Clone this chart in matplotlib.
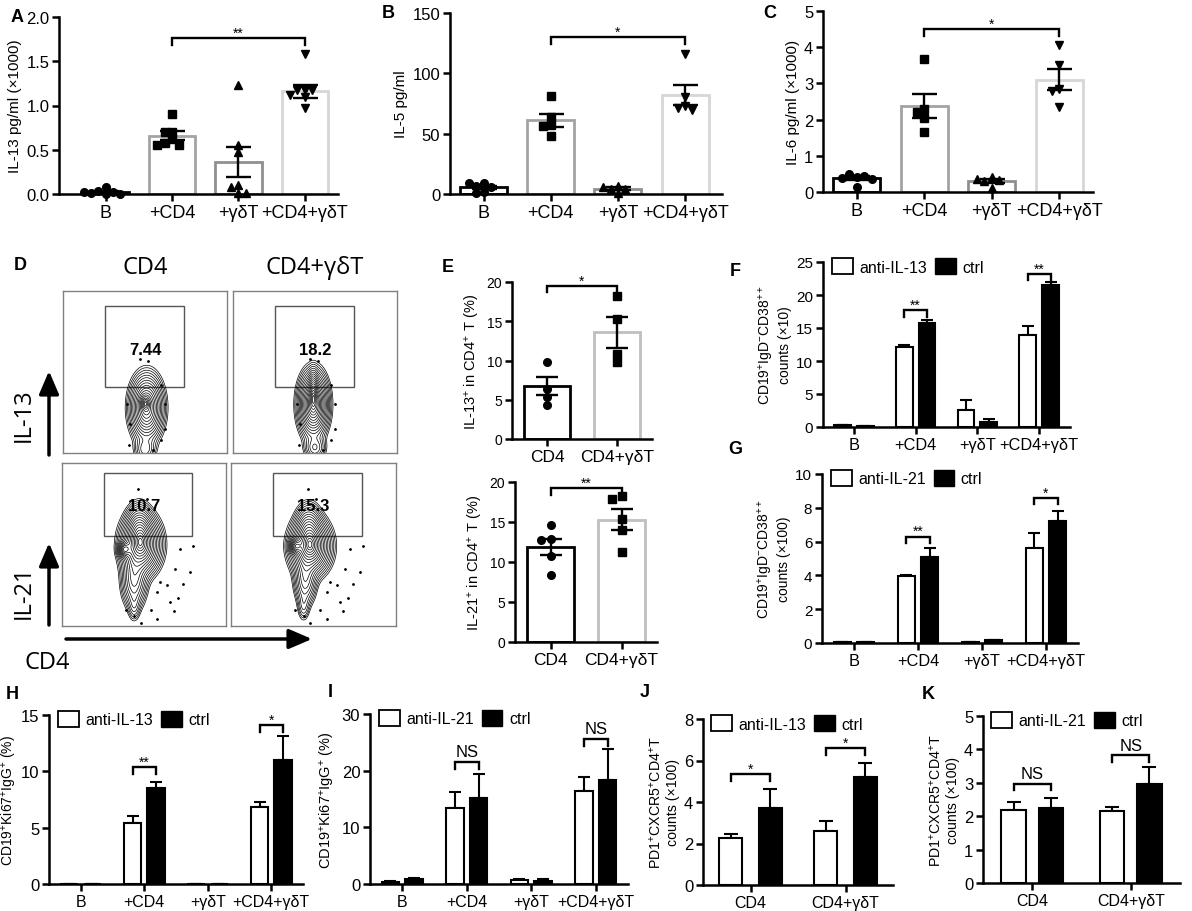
import numpy as np
import matplotlib
matplotlib.use('Agg')
import matplotlib.pyplot as plt
from matplotlib.patches import Patch, Rectangle, FancyArrowPatch

plt.rcParams['font.family'] = ['Liberation Sans', 'DejaVu Sans']
plt.rcParams['mathtext.fontset'] = 'custom'
plt.rcParams['mathtext.rm'] = 'Liberation Sans'
plt.rcParams['mathtext.it'] = 'Liberation Sans:italic'
plt.rcParams['mathtext.bf'] = 'Liberation Sans:bold'

W, H = 1192, 912

# ---- data ----
groups4 = ['B', '+CD4', '+γδT', '+CD4+γδT']
groups2 = ['CD4', 'CD4+γδT']

# A: IL-13 pg/ml (x1000)
a_points = [[0.08, 0.03, 0.02, 0.01, 0.0, 0.0, 0.02],
            [0.90, 0.70, 0.70, 0.62, 0.58, 0.55, 0.55],
            [1.23, 0.55, 0.47, 0.10, 0.08, 0.01, 0.01],
            [1.58, 1.18, 1.17, 1.17, 1.12, 1.10, 0.97]]
a_mean = [0.02, 0.66, 0.36, 1.16]
a_sem = [0.01, 0.05, 0.17, 0.07]

# B: IL-5 pg/ml
b_points = [[9, 7, 6, 9, 2, 1],
            [81, 64, 57, 56, 48],
            [6.5, 4.5, 4.0, 6.0, 1.0],
            [116, 80, 73, 71, 70]]
b_mean = [5.5, 61, 4.5, 82]
b_sem = [1.5, 5.5, 1.0, 8.5]

# C: IL-6 pg/ml (x1000)
c_points = [[0.42, 0.50, 0.45, 0.38, 0.35, 0.15],
            [3.68, 2.30, 2.20, 2.05, 1.65],
            [0.42, 0.30, 0.32, 0.35, 0.10],
            [4.05, 3.50, 2.85, 2.80, 2.35]]
c_mean = [0.38, 2.38, 0.30, 3.10]
c_sem = [0.05, 0.34, 0.06, 0.29]

# D: flow gates
d_gate_pct = ['7.44', '18.2', '10.7', '15.3']

# E: % of CD4+ T
e13_points = [[9.8, 6.4, 5.4, 4.3], [18.2, 15.3, 10.8, 9.8]]
e13_mean = [6.8, 13.6]
e13_sem = [1.15, 1.95]
e21_points = [[14.6, 12.9, 12.8, 10.8, 8.4], [18.3, 17.9, 15.4, 14.0, 11.2]]
e21_mean = [11.9, 15.3]
e21_sem = [1.0, 1.3]

# F-K: anti-IL-x vs ctrl
f_anti = [0.25, 12.1, 2.6, 13.9]
f_anti_err = [0.1, 0.35, 1.5, 1.4]
f_ctrl = [0.1, 15.7, 0.8, 21.5]
f_ctrl_err = [0.05, 0.5, 0.4, 0.4]

g_anti = [0.03, 3.95, 0.05, 5.6]
g_anti_err = [0.01, 0.05, 0.01, 0.9]
g_ctrl = [0.05, 5.1, 0.15, 7.2]
g_ctrl_err = [0.02, 0.5, 0.05, 0.6]

h_anti = [0, 5.4, 0, 6.85]
h_anti_err = [0, 0.65, 0, 0.4]
h_ctrl = [0, 8.5, 0, 11.0]
h_ctrl_err = [0, 0.55, 0, 2.1]

i_anti = [0.4, 13.5, 0.7, 16.4]
i_anti_err = [0.2, 2.8, 0.2, 2.5]
i_ctrl = [0.8, 15.2, 0.6, 18.3]
i_ctrl_err = [0.3, 4.2, 0.3, 5.5]

j_anti = [2.25, 2.6]
j_anti_err = [0.2, 0.5]
j_ctrl = [3.7, 5.2]
j_ctrl_err = [0.95, 0.7]

k_anti = [2.2, 2.15]
k_anti_err = [0.22, 0.12]
k_ctrl = [2.25, 2.95]
k_ctrl_err = [0.28, 0.53]

fig = plt.figure(figsize=(W / 100, H / 100), dpi=100)


def add_ax(x0, y0, x1, y1):
    return fig.add_axes([x0 / W, 1 - y1 / H, (x1 - x0) / W, (y1 - y0) / H])


def ftext(x, y, s, **kw):
    fig.text(x / W, 1 - y / H, s, **kw)


def style(ax, xfs, yfs):
    for s in ['top', 'right']:
        ax.spines[s].set_visible(False)
    for s in ['left', 'bottom']:
        ax.spines[s].set_linewidth(1.8)
    ax.tick_params(direction='out', length=5, width=1.8, pad=2)
    ax.tick_params(axis='x', labelsize=xfs)
    ax.tick_params(axis='y', labelsize=yfs)


def swarm(vals, ymax, spread):
    placed, offs = [], []
    for v in vals:
        for k in [0, -1, 1, -2, 2, -3, 3]:
            dx = k * spread
            if all(abs(dx - px) > spread * 0.9 or abs(v - py) > ymax * 0.035
                   for px, py in placed):
                break
        placed.append((dx, v))
        offs.append(dx)
    return np.array(offs)


def bracket(ax, x0, x1, y, text, ymax, fs=10):
    d = 0.04 * ymax
    ax.plot([x0, x0, x1, x1], [y - d, y, y, y - d], color='black', lw=1.7,
            clip_on=False, solid_joinstyle='miter')
    off = 0.035 if text == 'NS' else 0.008
    ax.text((x0 + x1) / 2, y + off * ymax, text, ha='center', va='baseline',
            fontsize=fs if text != 'NS' else fs + 2)


def scatter_bar(ax, cats, points, means, sems, markers, edges, ylim, yticks,
                xlim, spread, xfs, yfs, ms, width=0.7, capsize=9):
    x = np.arange(len(cats))
    ax.bar(x, means, width=width, color='white', edgecolor=edges, linewidth=2,
           zorder=1)
    for i, vals in enumerate(points):
        offs = swarm(vals, ylim[1], spread)
        ax.plot(x[i] + offs, vals, ls='none', marker=markers[i], color='black',
                ms=ms, zorder=3, clip_on=False)
    ax.errorbar(x, means, yerr=sems, fmt='none', ecolor='black', elinewidth=1.7,
                capsize=capsize, capthick=1.7, zorder=4)
    ax.set_xlim(*xlim)
    ax.set_ylim(*ylim)
    ax.set_yticks(yticks)
    ax.set_xticks(x)
    ax.set_xticklabels(cats)
    style(ax, xfs, yfs)


def pair_bar(ax, cats, anti, anti_err, ctrl, ctrl_err, ylim, yticks, sigs,
             leg, xfs, yfs, width=0.27, off=0.185, cap=4):
    x = np.arange(len(cats))
    ax.bar(x - off, anti, width=width, color='white', edgecolor='black',
           linewidth=1.5, zorder=2)
    ax.bar(x + off, ctrl, width=width, color='black', edgecolor='black',
           linewidth=1.5, zorder=2)
    ax.errorbar(x - off, anti, yerr=[np.zeros(len(x)), anti_err], fmt='none',
                ecolor='black', elinewidth=1.5, capsize=cap, capthick=1.5, zorder=1)
    ax.errorbar(x + off, ctrl, yerr=[np.zeros(len(x)), ctrl_err], fmt='none',
                ecolor='black', elinewidth=1.5, capsize=cap, capthick=1.5, zorder=1)
    for i, txt, y in sigs:
        bracket(ax, i - off, i + off, y, txt, ylim[1])
    ax.set_xlim(-0.5, len(cats) - 0.5)
    ax.set_ylim(*ylim)
    ax.set_yticks(yticks)
    ax.set_xticks(x)
    ax.set_xticklabels(cats)
    style(ax, xfs, yfs)
    handles = [Patch(facecolor='white', edgecolor='black', linewidth=1.3),
               Patch(facecolor='black', edgecolor='black')]
    ax.legend(handles, [leg, 'ctrl'], loc='upper left', bbox_to_anchor=(0.01, 1.06),
              ncol=2, frameon=False, fontsize=11.5, handlelength=1.3,
              handleheight=1.1, handletextpad=0.4, columnspacing=0.5,
              borderaxespad=0)


edges4 = ['black', '#a3a3a3', '#8f8f8f', '#d6d6d6']
marks4 = ['o', 's', '^', 'v']

# ---- A ----
ax = add_ax(59, 18, 338, 195)
scatter_bar(ax, groups4, a_points, a_mean, a_sem, marks4, edges4, (0, 2.0),
            [0, 0.5, 1.0, 1.5, 2.0], (-0.7, 3.5), 0.11, 13, 12, 5.5)
ax.set_yticklabels(['0.0', '0.5', '1.0', '1.5', '2.0'])
ax.set_ylabel('IL-13 pg/ml (×1000)', fontsize=11, labelpad=3)
bracket(ax, 1, 3, 1.76, '**', 2.0)

# ---- B ----
ax = add_ax(450, 14, 722, 195)
scatter_bar(ax, groups4, b_points, b_mean, b_sem, marks4, edges4, (0, 150),
            [0, 50, 100, 150], (-0.5, 3.55), 0.11, 13, 12, 5.5)
ax.set_ylabel('IL-5 pg/ml', fontsize=11, labelpad=3)
bracket(ax, 1, 3, 130, '*', 150)

# ---- C ----
ax = add_ax(823, 12, 1093, 193)
scatter_bar(ax, groups4, c_points, c_mean, c_sem, marks4, edges4, (0, 5),
            [0, 1, 2, 3, 4, 5], (-0.5, 3.5), 0.11, 13, 12, 5.5)
ax.set_ylabel('IL-6 pg/ml (×1000)', fontsize=11, labelpad=3)
bracket(ax, 1, 3, 4.5, '*', 5)

# ---- D: flow contour plots ----
gx, gy = np.meshgrid(np.linspace(0, 1, 260), np.linspace(0, 1, 260))


def density(comps):
    z = np.zeros_like(gx)
    for cx, cy, sx, sy, w in comps:
        z += w * np.exp(-((gx - cx) ** 2 / (2 * sx ** 2) + (gy - cy) ** 2 / (2 * sy ** 2)))
    return z


# blob components (centre x, centre y, spread x, spread y, weight)
il13_cd4 = [(0.51, 0.28, 0.05, 0.10, 1.0), (0.50, 0.02, 0.035, 0.04, 0.2),
            (0.50, 0.31, 0.018, 0.03, 0.3)]
il13_cd4gd = [(0.49, 0.30, 0.045, 0.10, 1.0), (0.49, 0.40, 0.015, 0.06, 0.3),
              (0.50, 0.03, 0.035, 0.04, 0.2)]
il21_cd4 = [(0.48, 0.50, 0.06, 0.09, 1.0), (0.47, 0.62, 0.04, 0.07, 0.3),
            (0.44, 0.28, 0.04, 0.09, 0.35), (0.38, 0.47, 0.02, 0.025, 0.5),
            (0.44, 0.12, 0.02, 0.05, 0.1)]
il21_cd4gd = [(0.48, 0.49, 0.06, 0.085, 1.0), (0.47, 0.62, 0.04, 0.07, 0.3),
              (0.45, 0.28, 0.035, 0.08, 0.3), (0.39, 0.49, 0.02, 0.025, 0.45),
              (0.44, 0.12, 0.02, 0.05, 0.1)]
dots13_x = [0.47, 0.52, 0.60, 0.62, 0.41, 0.60, 0.40, 0.55, 0.39, 0.62]
dots13_y = [0.58, 0.57, 0.42, 0.30, 0.18, 0.08, 0.05, 0.02, 0.30, 0.15]
dots21_x = [0.465, 0.516, 0.72, 0.78, 0.69, 0.60, 0.64, 0.71, 0.68, 0.54, 0.58,
            0.44, 0.39, 0.48, 0.80, 0.58, 0.74, 0.66]
dots21_y = [0.84, 0.78, 0.47, 0.33, 0.35, 0.27, 0.25, 0.17, 0.09, 0.10, 0.04,
            0.06, 0.10, 0.02, 0.49, 0.21, 0.26, 0.15]

radii = np.linspace(0.2, 2.7, 18)
flow = [((63, 292, 227, 454), il13_cd4, (0.256, 0.407, 0.482, 0.50), dots13_x, dots13_y, 0.64),
        ((233, 292, 397, 454), il13_cd4gd, (0.256, 0.407, 0.482, 0.50), dots13_x, dots13_y, 0.64),
        ((62, 464, 226, 627), il21_cd4, (0.256, 0.552, 0.537, 0.387), dots21_x, dots21_y, 0.74),
        ((231, 464, 396, 627), il21_cd4gd, (0.256, 0.552, 0.537, 0.387), dots21_x, dots21_y, 0.74)]
for k, (bx, comps, gate, dx, dy, ty) in enumerate(flow):
    ax = add_ax(*bx)
    z = density(comps)
    levels = np.sort(np.exp(-radii ** 2 / 2)) * z.max()
    ax.contour(gx, gy, z, levels=levels, colors='black', linewidths=0.5)
    ax.plot(dx, dy, ls='none', marker='.', ms=2, color='black')
    ax.add_patch(Rectangle(gate[:2], gate[2], gate[3], fill=False,
                           edgecolor='#555555', lw=1.0))
    ax.text(0.5, ty, d_gate_pct[k], ha='center', va='center', fontsize=12,
            fontweight='bold')
    ax.set_xlim(0, 1)
    ax.set_ylim(0, 1)
    ax.set_xticks([])
    ax.set_yticks([])
    for s in ax.spines.values():
        s.set_edgecolor('#808080')
        s.set_linewidth(1.0)

ftext(145, 268, 'CD4', ha='center', va='center', fontsize=17, family='Open Sans')
ftext(315, 268, 'CD4+γδT', ha='center', va='center', fontsize=17, family='Open Sans')
ftext(24, 415, 'IL-13', ha='center', va='center', fontsize=17, rotation=90,
      family='Open Sans')
ftext(24, 592, 'IL-21', ha='center', va='center', fontsize=17, rotation=90,
      family='Open Sans')
ftext(47, 663, 'CD4', ha='center', va='center', fontsize=17, family='Open Sans')


def farrow(x0, y0, x1, y1):
    fig.add_artist(FancyArrowPatch((x0 / W, 1 - y0 / H), (x1 / W, 1 - y1 / H),
                                   transform=fig.transFigure,
                                   arrowstyle='-|>,head_length=0.7,head_width=0.3',
                                   mutation_scale=20, lw=2.5, color='black',
                                   shrinkA=0, shrinkB=0))


farrow(49, 456, 49, 372)
farrow(49, 626, 49, 544)
farrow(66, 640, 312, 640)

# ---- E ----
ax = add_ax(512, 283, 652, 440)
scatter_bar(ax, groups2, e13_points, e13_mean, e13_sem, ['o', 's'],
            ['black', '#bfbfbf'], (0, 20), [0, 5, 10, 15, 20], (-0.5, 1.5),
            0.14, 12.5, 10, 5.5, width=0.66, capsize=8)
ax.set_ylabel('IL-13$^{+}$ in CD4$^{+}$ T (%)', fontsize=10.5, labelpad=3)
bracket(ax, 0, 1, 19.5, '*', 20)

ax = add_ax(515, 483, 657, 643)
scatter_bar(ax, groups2, e21_points, e21_mean, e21_sem, ['o', 's'],
            ['black', '#bfbfbf'], (0, 20), [0, 5, 10, 15, 20], (-0.5, 1.5),
            0.14, 12.5, 10, 5.5, width=0.66, capsize=8)
ax.set_ylabel('IL-21$^{+}$ in CD4$^{+}$ T (%)', fontsize=10.5, labelpad=3)
bracket(ax, 0, 1, 19.2, '**', 20)

# ---- F ----
ax = add_ax(823, 263, 1070, 428)
pair_bar(ax, groups4, f_anti, f_anti_err, f_ctrl, f_ctrl_err, (0, 25),
         [0, 5, 10, 15, 20, 25], [(1, '**', 17.7), (3, '**', 23.2)],
         'anti-IL-13', 11.75, 11)
ax.set_ylabel('CD19$^{+}$IgD$^{-}$CD38$^{++}$\ncounts (×10)', fontsize=10,
              labelpad=3)

# ---- G ----
ax = add_ax(822, 475, 1078, 644)
pair_bar(ax, groups4, g_anti, g_anti_err, g_ctrl, g_ctrl_err, (0, 10),
         [0, 2, 4, 6, 8, 10], [(1, '**', 6.3), (3, '*', 8.6)],
         'anti-IL-21', 11.75, 11)
ax.set_ylabel('CD19$^{+}$IgD$^{-}$CD38$^{++}$\ncounts (×100)', fontsize=10,
              labelpad=3)

# ---- H ----
ax = add_ax(49, 716, 303, 885)
pair_bar(ax, groups4, h_anti, h_anti_err, h_ctrl, h_ctrl_err, (0, 15),
         [0, 5, 10, 15], [(1, '**', 10.4), (3, '*', 14.1)], 'anti-IL-13',
         11.5, 12)
ax.set_ylabel('CD19$^{+}$Ki67$^{+}$IgG$^{+}$ (%)', fontsize=10, labelpad=1)

# ---- I ----
ax = add_ax(370, 715, 628, 885)
pair_bar(ax, groups4, i_anti, i_anti_err, i_ctrl, i_ctrl_err, (0, 30),
         [0, 10, 20, 30], [(1, 'NS', 21.5), (3, 'NS', 25.6)], 'anti-IL-21',
         11.5, 12)
ax.set_ylabel('CD19$^{+}$Ki67$^{+}$IgG$^{+}$ (%)', fontsize=10.5, labelpad=3)

# ---- J ----
ax = add_ax(703, 720, 893, 886)
pair_bar(ax, groups2, j_anti, j_anti_err, j_ctrl, j_ctrl_err, (0, 8),
         [0, 2, 4, 6, 8], [(0, '*', 5.35), (1, '*', 6.6)], 'anti-IL-13',
         11.5, 12, width=0.25, off=0.21, cap=5)
ax.set_ylabel('PD1$^{+}$CXCR5$^{+}$CD4$^{+}$T\ncounts (×100)', fontsize=10.2,
              labelpad=3)

# ---- K ----
ax = add_ax(983, 717, 1180, 884)
pair_bar(ax, groups2, k_anti, k_anti_err, k_ctrl, k_ctrl_err, (0, 5),
         [0, 1, 2, 3, 4, 5], [(0, 'NS', 2.97), (1, 'NS', 3.82)], 'anti-IL-21',
         11.5, 12, width=0.25, off=0.19, cap=5)
ax.set_ylabel('PD1$^{+}$CXCR5$^{+}$CD4$^{+}$T\ncounts (×100)', fontsize=10.2,
              labelpad=3)

# panel letters
for lab, x, y in [('A', 17, 18), ('B', 388, 14), ('C', 770, 14), ('D', 20, 265),
                  ('E', 448, 267), ('F', 735, 271), ('G', 735, 450),
                  ('H', 12, 695), ('I', 330, 693), ('J', 645, 693), ('K', 928, 695)]:
    ftext(x, y, lab, ha='center', va='center', fontsize=13, fontweight='bold')

fig.savefig('out.png', dpi=100)
